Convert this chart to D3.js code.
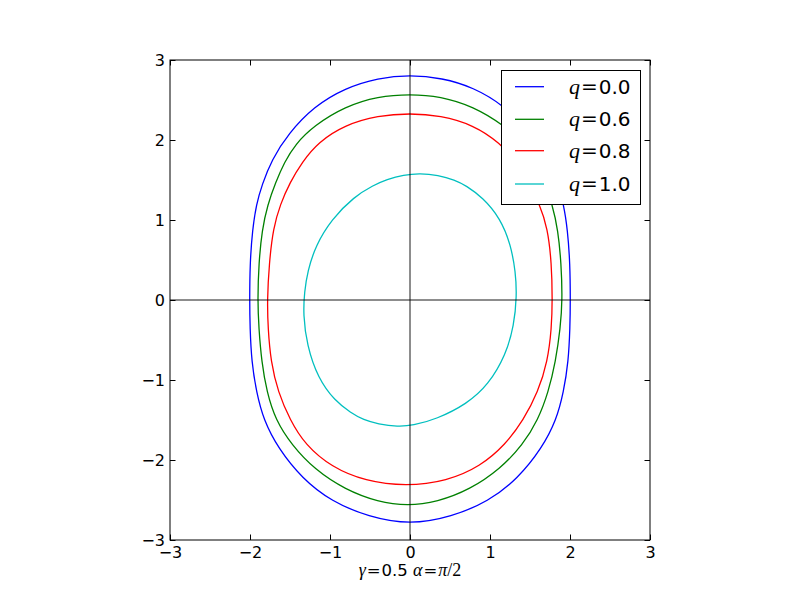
<!DOCTYPE html>
<html><head><meta charset="utf-8">
<script src="https://cdn.jsdelivr.net/npm/d3@7"></script>
<style>body{margin:0;background:#fff}</style>
</head><body>
<svg id="c" width="800" height="600"></svg>
<script>
const xTicks=[-3,-2,-1,0,1,2,3];
const yTicks=[-3,-2,-1,0,1,2,3];
const qLabels=["0.0","0.6","0.8","1.0"];
const colors=["#0000ff","#008000","#ff0000","#00bfbf"];

const q00=[[0,2.815],[0.40,2.775],[0.79,2.66],[1.18,2.43],[1.52,2.08],[1.73,1.75],[1.85,1.44],[1.92,1.2],[1.97,0.875],[2.0,0.46],[2.005,0],
[2.0,-0.35],[1.98,-0.77],[1.92,-1.15],[1.83,-1.5],[1.65,-1.85],[1.35,-2.23],[0.98,-2.52],[0.52,-2.71],[0,-2.81],
[-0.52,-2.71],[-0.98,-2.52],[-1.35,-2.23],[-1.65,-1.85],[-1.83,-1.5],[-1.92,-1.15],[-1.98,-0.77],[-2.0,-0.35],[-2.005,0],
[-2.0,0.46],[-1.97,0.875],[-1.92,1.2],[-1.85,1.44],[-1.73,1.75],[-1.52,2.08],[-1.20,2.42],[-0.81,2.65],[-0.40,2.775]];
const q06=[[0,2.575],[0.38,2.545],[0.79,2.42],[1.18,2.18],[1.44,1.94],[1.57,1.72],[1.68,1.47],[1.78,1.19],[1.85,0.875],[1.89,0.46],[1.905,0],
[1.88,-0.35],[1.82,-0.77],[1.73,-1.15],[1.60,-1.5],[1.41,-1.81],[1.13,-2.11],[0.75,-2.37],[0.34,-2.525],[-0.03,-2.575],
[-0.40,-2.525],[-0.81,-2.37],[-1.19,-2.12],[-1.48,-1.81],[-1.68,-1.5],[-1.79,-1.15],[-1.855,-0.77],[-1.89,-0.35],[-1.905,0],
[-1.89,0.46],[-1.85,0.875],[-1.78,1.19],[-1.68,1.47],[-1.57,1.72],[-1.44,1.94],[-1.20,2.18],[-0.81,2.42],[-0.40,2.545]];
const q08=[[0,2.335],[0.38,2.305],[0.79,2.19],[1.13,1.96],[1.33,1.72],[1.48,1.47],[1.62,1.2],[1.72,0.9],[1.77,0.46],[1.78,0],
[1.77,-0.35],[1.72,-0.77],[1.60,-1.15],[1.42,-1.5],[1.19,-1.81],[0.88,-2.08],[0.46,-2.265],[-0.05,-2.33],
[-0.56,-2.265],[-0.98,-2.09],[-1.31,-1.81],[-1.50,-1.5],[-1.65,-1.15],[-1.74,-0.77],[-1.775,-0.35],[-1.785,0],
[-1.76,0.46],[-1.71,0.90],[-1.62,1.2],[-1.50,1.47],[-1.35,1.72],[-1.15,1.97],[-0.81,2.19],[-0.40,2.305]];
const q10=[[0.125,1.585],[0.35,1.56],[0.56,1.5],[0.70,1.43],[0.91,1.28],[1.13,1.02],[1.26,0.69],[1.32,0.35],[1.335,0.05],
[1.30,-0.32],[1.20,-0.68],[0.98,-1.06],[0.71,-1.30],[0.33,-1.49],[0.03,-1.57],[-0.15,-1.585],[-0.40,-1.55],[-0.58,-1.5],
[-0.74,-1.41],[-0.94,-1.26],[-1.15,-0.98],[-1.29,-0.56],[-1.335,-0.18],[-1.32,0.1],[-1.28,0.36],[-1.18,0.68],[-0.98,1.01],
[-0.70,1.29],[-0.46,1.433],[-0.29,1.506],[-0.08,1.565]];
const series=[q00,q06,q08,q10];

const svg=d3.select("#c");
const L=170,R=650,T=60,B=540;
const x=d3.scaleLinear().domain([-3,3]).range([L,R]);
const y=d3.scaleLinear().domain([-3,3]).range([B,T]);
const sans="'DejaVu Sans', sans-serif";
const serif="'Liberation Serif','DejaVu Serif', serif";
const dserif="'DejaVu Serif', serif";

svg.append("rect").attr("x",0).attr("y",0).attr("width",800).attr("height",600).attr("fill","#fff");

const line=d3.line().x(d=>x(d[0])).y(d=>y(d[1])).curve(d3.curveBasisClosed);
series.forEach((s,i)=>{
  svg.append("path").attr("d",line(s)).attr("fill","none").attr("stroke",colors[i]).attr("stroke-width",1.3);
});

// zero lines
svg.append("line").attr("x1",x(-3)).attr("x2",x(3)).attr("y1",y(0)).attr("y2",y(0)).attr("stroke","#000").attr("stroke-width",0.9);
svg.append("line").attr("x1",x(0)).attr("x2",x(0)).attr("y1",y(-3)).attr("y2",y(3)).attr("stroke","#000").attr("stroke-width",0.9);

// axes with inside ticks
const tl=5.5;
const fmt=d=>d<0?"\u2212"+Math.abs(d):d;
const ax=svg.append("g").attr("transform",`translate(0,${B})`).call(d3.axisBottom(x).tickValues(xTicks).tickSizeInner(-tl).tickSizeOuter(0).tickPadding(7).tickFormat(fmt));
const axT=svg.append("g").attr("transform",`translate(0,${T})`).call(d3.axisTop(x).tickValues(xTicks).tickSizeInner(-tl).tickSizeOuter(0).tickFormat(""));
const ay=svg.append("g").attr("transform",`translate(${L},0)`).call(d3.axisLeft(y).tickValues(yTicks).tickSizeInner(-tl).tickSizeOuter(0).tickPadding(5).tickFormat(fmt));
const ayR=svg.append("g").attr("transform",`translate(${R},0)`).call(d3.axisRight(y).tickValues(yTicks).tickSizeInner(-tl).tickSizeOuter(0).tickFormat(""));
[ax,axT,ay,ayR].forEach(g=>{g.select(".domain").remove();g.selectAll("line").attr("stroke","#000").attr("stroke-width",1);
  g.selectAll("text").attr("fill","#000").attr("font-family",sans).attr("font-size",16);});

svg.append("rect").attr("x",L).attr("y",T).attr("width",R-L).attr("height",B-T).attr("fill","none").attr("stroke","#000").attr("stroke-width",1);

// legend
const lg=svg.append("g");
lg.append("rect").attr("x",501.5).attr("y",70.5).attr("width",139).attr("height",134).attr("fill","#fff").attr("stroke","#000").attr("stroke-width",1);
const rowY=[86.7,119.3,150.7,184];
qLabels.forEach((lab,i)=>{
  lg.append("line").attr("x1",515).attr("x2",544).attr("y1",rowY[i]).attr("y2",rowY[i]).attr("stroke",colors[i]).attr("stroke-width",1.3);
  const t=lg.append("text").attr("x",569).attr("y",rowY[i]+7).attr("font-size",20).attr("fill","#000");
  t.append("tspan").attr("font-family",serif).attr("font-style","italic").attr("font-size",22).text("q");
  t.append("tspan").attr("font-family",dserif).attr("dx",1).text("=");
  t.append("tspan").attr("font-family",sans).attr("dx",1).text(lab);
});

// x label
const xl=svg.append("text").attr("x",410).attr("y",576).attr("text-anchor","middle").attr("font-size",16.5).attr("fill","#000");
xl.append("tspan").attr("font-family",serif).attr("font-style","italic").attr("font-size",18).text("\u03b3");
xl.append("tspan").attr("font-family",dserif).attr("dx",1).text("=");
xl.append("tspan").attr("font-family",sans).attr("dx",1).text("0.5 ");
xl.append("tspan").attr("font-family",serif).attr("font-style","italic").attr("font-size",18).text("\u03b1");
xl.append("tspan").attr("font-family",dserif).attr("dx",1).text("=");
xl.append("tspan").attr("font-family",serif).attr("font-style","italic").attr("font-size",18).attr("dx",1).text("\u03c0");
xl.append("tspan").attr("font-family",serif).attr("font-size",18).text("/2");
</script>
</body></html>
